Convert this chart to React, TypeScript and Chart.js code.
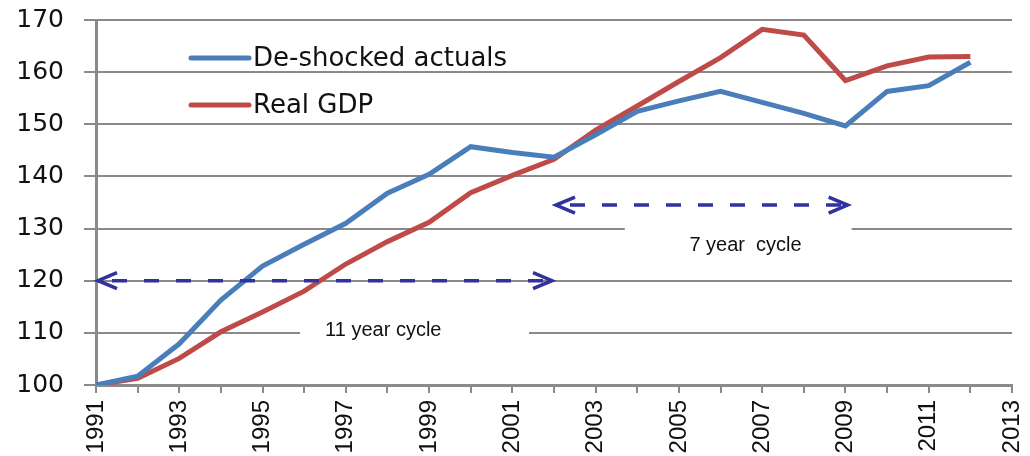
import React, { useEffect, useRef } from "react";
import { Chart, registerables } from "chart.js";

Chart.register(...registerables);

const years = [1991, 1992, 1993, 1994, 1995, 1996, 1997, 1998, 1999, 2000, 2001, 2002, 2003, 2004, 2005, 2006, 2007, 2008, 2009, 2010, 2011, 2012];
const deshockedActuals = [100, 101.7, 107.9, 116.3, 122.8, 127.0, 131.0, 136.8, 140.4, 145.7, 144.6, 143.7, 148.0, 152.5, 154.5, 156.3, 154.2, 152.1, 149.7, 156.3, 157.4, 161.9];
const realGdp = [100, 101.3, 105.1, 110.2, 114.0, 118.0, 123.2, 127.5, 131.2, 136.9, 140.2, 143.3, 148.9, 153.5, 158.2, 162.8, 168.2, 167.1, 158.4, 161.2, 162.9, 163.0];
const seriesNames = ["De-shocked actuals", "Real GDP"];
const xTickLabels = ["1991", "1993", "1995", "1997", "1999", "2001", "2003", "2005", "2007", "2009", "2011", "2013"];
const yTickLabels = ["100", "110", "120", "130", "140", "150", "160", "170"];

// cycle annotations (data coordinates)
const cycleLabels = ["11 year cycle", "7 year  cycle"];
const cycleFrom = [1991, 2002];
const cycleTo = [2002, 2009.1];
const cycleLevel = [120, 134.5];
const cycleTextX = [1997.9, 2006.6];
const cycleTextY = [110.4, 126.7];
const cycleBoxX = [[1995.9, 2001.4], [2003.7, 2009.15]];
const cycleBoxY = [[107.8, 112.8], [125.2, 131.0]];

const BLUE = "#4a7ebb";
const RED = "#be4b48";
const ARROW = "#3131a0";
const GRID = "#8a8a8a";

const cyclePlugin = {
  id: "cycles",
  beforeDatasetsDraw(chart: any) {
    const { ctx, scales } = chart;
    const x = scales.x;
    const y = scales.y;
    ctx.save();
    ctx.fillStyle = "#ffffff";
    for (let i = 0; i < cycleLabels.length; i++) {
      const x1 = x.getPixelForValue(cycleBoxX[i][0]);
      const x2 = x.getPixelForValue(cycleBoxX[i][1]);
      const y1 = y.getPixelForValue(cycleBoxY[i][1]);
      const y2 = y.getPixelForValue(cycleBoxY[i][0]);
      ctx.fillRect(x1, y1, x2 - x1, y2 - y1);
    }
    ctx.restore();
  },
  afterDatasetsDraw(chart: any) {
    const { ctx, scales, chartArea } = chart;
    const x = scales.x;
    const y = scales.y;
    ctx.save();
    for (let i = 0; i < cycleLabels.length; i++) {
      const xa = x.getPixelForValue(cycleFrom[i]);
      const xb = x.getPixelForValue(cycleTo[i]);
      const yy = y.getPixelForValue(cycleLevel[i]);
      ctx.strokeStyle = ARROW;
      ctx.lineWidth = 3.5;
      ctx.lineCap = "butt";
      ctx.setLineDash([15, 17]);
      ctx.beginPath();
      ctx.moveTo(xa + 16, yy);
      ctx.lineTo(xb - 4, yy);
      ctx.stroke();
      ctx.setLineDash([]);
      ctx.lineJoin = "miter";
      ctx.beginPath();
      ctx.moveTo(xa + 21, yy - 8);
      ctx.lineTo(xa + 2, yy);
      ctx.lineTo(xa + 21, yy + 8);
      ctx.stroke();
      ctx.beginPath();
      ctx.moveTo(xb - 21, yy - 8);
      ctx.lineTo(xb - 2, yy);
      ctx.lineTo(xb - 21, yy + 8);
      ctx.stroke();

      ctx.fillStyle = "#111111";
      ctx.font = "20px 'Liberation Sans', Arial, sans-serif";
      ctx.textAlign = "center";
      ctx.textBaseline = "middle";
      ctx.fillText(cycleLabels[i], x.getPixelForValue(cycleTextX[i]), y.getPixelForValue(cycleTextY[i]));
    }

    // legend inside chart area
    const colors = [BLUE, RED];
    ctx.font = "26px 'DejaVu Sans', sans-serif";
    ctx.textAlign = "left";
    ctx.textBaseline = "middle";
    for (let i = 0; i < seriesNames.length; i++) {
      const ly = chartArea.top + 38 + i * 47;
      const lx = chartArea.left + 95;
      ctx.strokeStyle = colors[i];
      ctx.lineWidth = 5;
      ctx.lineCap = "round";
      ctx.beginPath();
      ctx.moveTo(lx, ly);
      ctx.lineTo(lx + 58, ly);
      ctx.stroke();
      ctx.fillStyle = "#111111";
      ctx.fillText(seriesNames[i], lx + 62, ly + 1);
    }
    ctx.restore();
  },
};

const zeroPad = (s: any) => {
  s.paddingTop = 0;
  s.paddingBottom = 0;
  s.paddingLeft = 0;
  s.paddingRight = 0;
};

export default function App() {
  const ref = useRef<HTMLCanvasElement | null>(null);

  useEffect(() => {
    if (!ref.current) return;
    const chart = new Chart(ref.current, {
      type: "line",
      data: {
        datasets: [
          {
            label: seriesNames[0],
            data: years.map((yr, i) => ({ x: yr, y: deshockedActuals[i] })),
            borderColor: BLUE,
            backgroundColor: BLUE,
            borderWidth: 5,
            pointRadius: 0,
            tension: 0,
          },
          {
            label: seriesNames[1],
            data: years.map((yr, i) => ({ x: yr, y: realGdp[i] })),
            borderColor: RED,
            backgroundColor: RED,
            borderWidth: 5,
            pointRadius: 0,
            tension: 0,
          },
        ],
      },
      options: {
        animation: false,
        responsive: true,
        maintainAspectRatio: false,
        layout: { padding: { top: 20, right: 18, left: 0, bottom: 0 } },
        plugins: {
          legend: { display: false },
          tooltip: { enabled: false },
        },
        scales: {
          x: {
            type: "linear",
            min: 1991,
            max: 2013,
            afterFit: (s: any) => {
              s.height = 71;
              zeroPad(s);
            },
            ticks: {
              stepSize: 1,
              autoSkip: false,
              minRotation: 90,
              maxRotation: 90,
              padding: 7,
              color: "#111111",
              font: { family: "'Liberation Sans', Arial, sans-serif", size: 24 },
              callback: (v: any) => (xTickLabels.includes(String(v)) ? String(v) : ""),
            },
            grid: {
              drawOnChartArea: false,
              drawTicks: true,
              tickLength: 8,
              color: GRID,
              lineWidth: 2,
            },
            border: { color: GRID, width: 3 },
          },
          y: {
            min: 100,
            max: 170,
            afterFit: (s: any) => {
              s.width = 96;
              zeroPad(s);
            },
            ticks: {
              stepSize: 10,
              padding: 20,
              color: "#111111",
              font: { family: "'DejaVu Sans', sans-serif", size: 25 },
              callback: (v: any) => (yTickLabels.includes(String(v)) ? String(v) : ""),
            },
            grid: {
              color: GRID,
              lineWidth: 2,
              tickLength: 12,
            },
            border: { color: GRID, width: 3 },
          },
        },
      },
      plugins: [cyclePlugin],
    });
    return () => chart.destroy();
  }, []);

  return (
    <div style={{ position: "absolute", left: 0, top: 0, width: 1030, height: 456, background: "#ffffff" }}>
      <canvas ref={ref} />
    </div>
  );
}
